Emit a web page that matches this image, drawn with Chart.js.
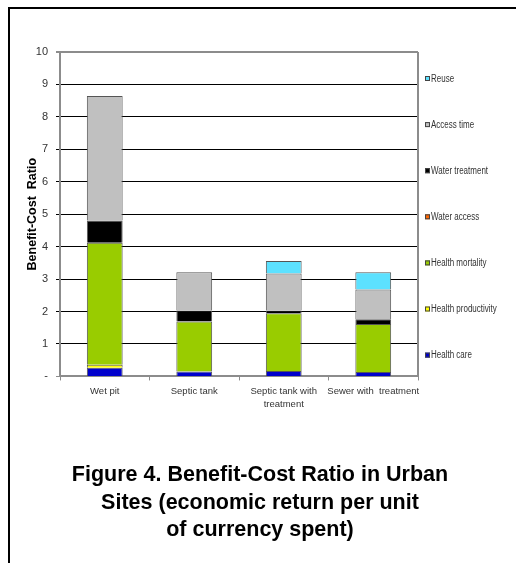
<!DOCTYPE html>
<html><head><meta charset="utf-8">
<script src="https://cdn.jsdelivr.net/npm/chart.js@4/dist/chart.umd.min.js"></script>
<style>html,body{margin:0;padding:0;background:#fff}#wrap{width:516px;height:563px;position:relative}</style>
</head><body><div id="wrap"><canvas id="c" width="516" height="563"></canvas></div>
<script>
const categories = ['Wet pit', 'Septic tank', ['Septic tank with', 'treatment'], 'Sewer with  treatment'];
const healthCare = [0.27, 0.15, 0.17, 0.14];
const healthProductivity = [0.09, 0, 0, 0];
const healthMortality = [3.76, 1.54, 1.78, 1.48];
const waterAccess = [0, 0, 0, 0];
const waterTreatment = [0.69, 0.34, 0.08, 0.14];
const accessTime = [3.83, 1.18, 1.14, 0.92];
const reuse = [0, 0, 0.39, 0.53];
const yTickLabels = ['-', '1', '2', '3', '4', '5', '6', '7', '8', '9', '10'];
const seriesNames = ['Health care', 'Health productivity', 'Health mortality', 'Water access', 'Water treatment', 'Access time', 'Reuse'];
const seriesColors = ['#0000CC', '#FFFF00', '#99CC00', '#FF6600', '#000000', '#C0C0C0', '#5CE1FF'];
const seriesValues = [healthCare, healthProductivity, healthMortality, waterAccess, waterTreatment, accessTime, reuse];
const figureTitle = ['Figure 4. Benefit-Cost Ratio in Urban', 'Sites (economic return per unit', 'of currency spent)'];

const SANS = "'Liberation Sans', Arial, sans-serif";

const frame = {
  id: 'frame',
  afterDraw(chart) {
    const ctx = chart.ctx, a = chart.chartArea;
    ctx.save();
    // page border (top and left)
    ctx.strokeStyle = '#000'; ctx.lineWidth = 2;
    ctx.beginPath(); ctx.moveTo(9, 563); ctx.lineTo(9, 8); ctx.lineTo(516, 8); ctx.stroke();
    // plot frame right side
    ctx.strokeStyle = '#8c8c8c'; ctx.lineWidth = 2;
    ctx.beginPath(); ctx.moveTo(a.right, a.top); ctx.lineTo(a.right, a.bottom); ctx.stroke();
    // legend
    const ds = chart.data.datasets;
    ctx.font = '10px ' + SANS;
    ctx.textBaseline = 'middle'; ctx.textAlign = 'left';
    for (let k = 0; k < ds.length; k++) {
      const d = ds[ds.length - 1 - k];
      const y = a.top + 27 + k * 46.1;
      const x = a.right + 7;
      ctx.fillStyle = d.backgroundColor; ctx.fillRect(x, y - 3, 5, 5);
      ctx.strokeStyle = '#444'; ctx.lineWidth = 1; ctx.strokeRect(x + 0.5, y - 2.5, 4, 4);
      ctx.save();
      ctx.translate(x + 6, y);
      ctx.scale(0.8, 1);
      ctx.fillStyle = '#333'; ctx.fillText(d.label, 0, 0);
      ctx.restore();
    }
    ctx.restore();
  }
};

new Chart(document.getElementById('c'), {
  type: 'bar',
  data: {
    labels: categories,
    datasets: seriesNames.map((n, i) => ({
      label: n, data: seriesValues[i], backgroundColor: seriesColors[i],
      borderColor: '#555', borderWidth: 1, barPercentage: 0.4, categoryPercentage: 1
    }))
  },
  options: {
    responsive: false, animation: false, devicePixelRatio: 1,
    layout: { padding: { left: 10, right: 6, top: 52, bottom: 19 } },
    plugins: {
      legend: { display: false },
      tooltip: { enabled: false },
      title: {
        display: true, position: 'bottom', text: figureTitle,
        font: { family: SANS, size: 21.5, weight: 'bold', lineHeight: 1.28 },
        color: '#000', padding: { top: 45, bottom: 0 }
      }
    },
    scales: {
      x: {
        stacked: true,
        afterFit(s) { s.height = 40; },
        grid: { offset: true, drawOnChartArea: false, drawTicks: true, tickLength: 4, color: '#8c8c8c', lineWidth: 1 },
        border: { color: '#8c8c8c', width: 2 },
        ticks: { font: { family: SANS, size: 9.5, lineHeight: 1.35 }, color: '#333', padding: 5, maxRotation: 0, autoSkip: false }
      },
      y: {
        stacked: true, min: 0, max: 10,
        afterFit(s) { s.width = 50; },
        grid: {
          color: c => (c.tick && (c.tick.value === 10 || c.tick.value === 0)) ? '#8c8c8c' : '#000',
          lineWidth: c => (c.tick && c.tick.value === 10) ? 2 : 1,
          tickLength: 4
        },
        border: { color: '#8c8c8c', width: 2 },
        ticks: {
          stepSize: 1, padding: 8, color: '#333',
          font: { family: SANS, size: 11 },
          callback: (v, i) => yTickLabels[i]
        },
        title: {
          display: true, text: 'Benefit-Cost  Ratio', color: '#000',
          font: { family: SANS, size: 12.5, weight: 'bold', lineHeight: 1.2 },
          padding: { top: 15, bottom: 0 }
        }
      },
      legendSpace: {
        type: 'linear', position: 'right', display: true,
        afterFit(s) { s.width = 92; },
        grid: { display: false, drawTicks: false },
        border: { display: false },
        ticks: { display: false }
      }
    }
  },
  plugins: [frame]
});
</script></body></html>
